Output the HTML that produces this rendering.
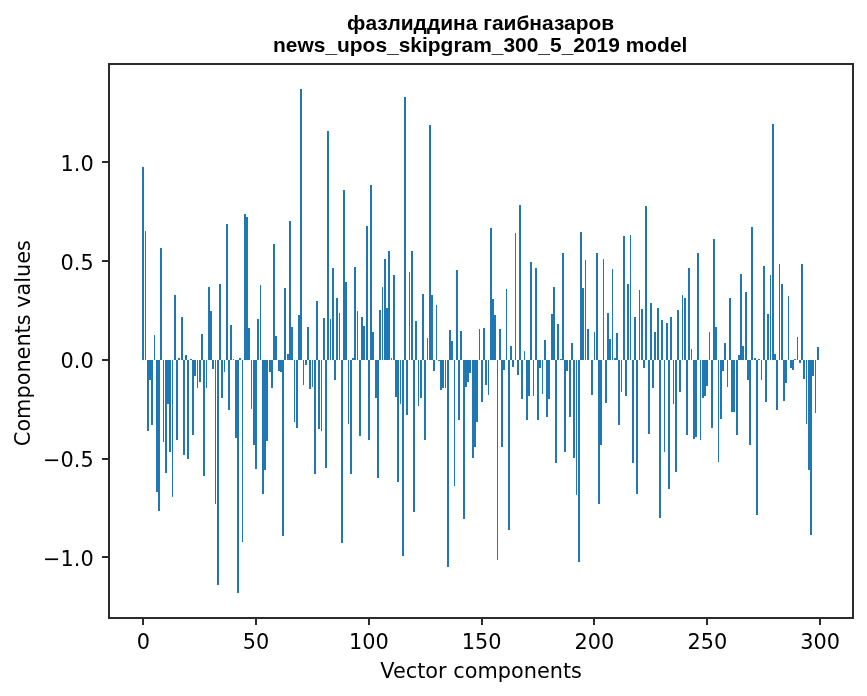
<!DOCTYPE html>
<html lang="ru"><head><meta charset="utf-8"><title>Vector components</title>
<style>html,body{margin:0;padding:0;background:#fff}svg{display:block}text{fill:#000}.t{font-family:"DejaVu Sans","Liberation Sans",sans-serif;font-size:20.83px}.h{font-family:"Liberation Sans",Arial,sans-serif;font-weight:bold;font-size:20.95px}</style></head><body>
<svg width="867" height="696" viewBox="0 0 867 696">
<rect width="867" height="696" fill="#fff"/>
<g fill="#1f77b4" shape-rendering="crispEdges">
<rect x="142" y="167" width="2" height="193"/><rect x="145" y="231" width="1" height="129"/><rect x="147" y="360" width="2" height="71"/><rect x="149" y="360" width="2" height="20"/><rect x="151" y="360" width="2" height="65"/><rect x="154" y="335" width="1" height="25"/><rect x="156" y="360" width="2" height="132"/><rect x="158" y="360" width="2" height="151"/>
<rect x="160" y="248" width="2" height="112"/><rect x="163" y="360" width="1" height="82"/><rect x="165" y="360" width="2" height="113"/><rect x="167" y="360" width="2" height="44"/><rect x="169" y="360" width="2" height="92"/><rect x="172" y="360" width="1" height="137"/><rect x="174" y="295" width="2" height="65"/><rect x="176" y="360" width="2" height="80"/>
<rect x="178" y="358" width="2" height="2"/><rect x="181" y="317" width="2" height="43"/><rect x="183" y="360" width="2" height="95"/><rect x="185" y="355" width="2" height="5"/><rect x="187" y="360" width="2" height="99"/><rect x="190" y="359" width="2" height="1"/><rect x="192" y="360" width="2" height="75"/><rect x="194" y="360" width="2" height="16"/>
<rect x="197" y="360" width="1" height="28"/><rect x="199" y="360" width="2" height="22"/><rect x="201" y="334" width="2" height="26"/><rect x="203" y="360" width="2" height="116"/><rect x="206" y="360" width="1" height="28"/><rect x="208" y="287" width="2" height="73"/><rect x="210" y="311" width="2" height="49"/><rect x="212" y="360" width="2" height="9"/>
<rect x="215" y="360" width="1" height="144"/><rect x="217" y="360" width="2" height="225"/><rect x="219" y="284" width="2" height="76"/><rect x="221" y="360" width="2" height="38"/><rect x="224" y="360" width="1" height="12"/><rect x="226" y="224" width="2" height="136"/><rect x="228" y="360" width="2" height="50"/><rect x="230" y="325" width="2" height="35"/>
<rect x="233" y="359" width="1" height="1"/><rect x="235" y="360" width="2" height="78"/><rect x="237" y="360" width="2" height="233"/><rect x="239" y="358" width="2" height="2"/><rect x="242" y="360" width="1" height="182"/><rect x="244" y="214" width="2" height="146"/><rect x="246" y="217" width="2" height="143"/><rect x="248" y="328" width="2" height="32"/>
<rect x="251" y="360" width="1" height="49"/><rect x="253" y="360" width="2" height="85"/><rect x="255" y="360" width="2" height="109"/><rect x="257" y="319" width="2" height="41"/><rect x="260" y="285" width="1" height="75"/><rect x="262" y="360" width="2" height="134"/><rect x="264" y="360" width="2" height="110"/><rect x="266" y="360" width="2" height="81"/>
<rect x="269" y="360" width="2" height="12"/><rect x="271" y="360" width="2" height="28"/><rect x="273" y="244" width="2" height="116"/><rect x="275" y="336" width="2" height="24"/><rect x="278" y="360" width="2" height="11"/><rect x="280" y="360" width="2" height="12"/><rect x="282" y="360" width="2" height="176"/><rect x="284" y="288" width="2" height="72"/>
<rect x="287" y="354" width="2" height="6"/><rect x="289" y="221" width="2" height="139"/><rect x="291" y="327" width="2" height="33"/><rect x="294" y="360" width="1" height="62"/><rect x="296" y="360" width="2" height="68"/><rect x="298" y="315" width="2" height="45"/><rect x="300" y="89" width="2" height="271"/><rect x="303" y="360" width="1" height="25"/>
<rect x="305" y="360" width="2" height="5"/><rect x="307" y="327" width="2" height="33"/><rect x="309" y="360" width="2" height="29"/><rect x="312" y="360" width="1" height="27"/><rect x="314" y="360" width="2" height="114"/><rect x="316" y="301" width="2" height="59"/><rect x="318" y="360" width="2" height="69"/><rect x="321" y="360" width="1" height="71"/>
<rect x="323" y="318" width="2" height="42"/><rect x="325" y="360" width="2" height="108"/><rect x="327" y="131" width="2" height="229"/><rect x="330" y="319" width="1" height="41"/><rect x="332" y="268" width="2" height="92"/><rect x="334" y="360" width="2" height="20"/><rect x="336" y="298" width="2" height="62"/><rect x="339" y="313" width="1" height="47"/>
<rect x="341" y="360" width="2" height="183"/><rect x="343" y="190" width="2" height="170"/><rect x="345" y="282" width="2" height="78"/><rect x="348" y="360" width="1" height="64"/><rect x="350" y="360" width="2" height="114"/><rect x="352" y="358" width="2" height="2"/><rect x="354" y="267" width="2" height="93"/><rect x="357" y="311" width="1" height="49"/>
<rect x="359" y="360" width="2" height="76"/><rect x="361" y="317" width="2" height="43"/><rect x="363" y="326" width="2" height="34"/><rect x="366" y="226" width="2" height="134"/><rect x="368" y="360" width="2" height="80"/><rect x="370" y="185" width="2" height="175"/><rect x="372" y="332" width="2" height="28"/><rect x="375" y="360" width="2" height="38"/>
<rect x="377" y="360" width="2" height="118"/><rect x="379" y="310" width="2" height="50"/><rect x="382" y="287" width="1" height="73"/><rect x="384" y="259" width="2" height="101"/><rect x="386" y="308" width="2" height="52"/><rect x="388" y="251" width="2" height="109"/><rect x="391" y="358" width="1" height="2"/><rect x="393" y="275" width="2" height="85"/>
<rect x="395" y="360" width="2" height="37"/><rect x="397" y="360" width="2" height="122"/><rect x="400" y="360" width="1" height="44"/><rect x="402" y="360" width="2" height="196"/><rect x="404" y="97" width="2" height="263"/><rect x="406" y="360" width="2" height="55"/><rect x="409" y="272" width="1" height="88"/><rect x="411" y="251" width="2" height="109"/>
<rect x="413" y="360" width="2" height="152"/><rect x="415" y="321" width="2" height="39"/><rect x="418" y="360" width="1" height="46"/><rect x="420" y="360" width="2" height="38"/><rect x="422" y="294" width="2" height="66"/><rect x="424" y="360" width="2" height="80"/><rect x="427" y="338" width="1" height="22"/><rect x="429" y="125" width="2" height="235"/>
<rect x="431" y="295" width="2" height="65"/><rect x="433" y="360" width="2" height="11"/><rect x="436" y="305" width="1" height="55"/><rect x="438" y="360" width="2" height="1"/><rect x="440" y="360" width="2" height="30"/><rect x="442" y="360" width="2" height="28"/><rect x="445" y="360" width="1" height="28"/><rect x="447" y="360" width="2" height="207"/>
<rect x="449" y="330" width="2" height="30"/><rect x="451" y="341" width="2" height="19"/><rect x="454" y="360" width="1" height="126"/><rect x="456" y="270" width="2" height="90"/><rect x="458" y="360" width="2" height="60"/><rect x="460" y="331" width="2" height="29"/><rect x="463" y="360" width="2" height="159"/><rect x="465" y="360" width="2" height="27"/>
<rect x="467" y="360" width="2" height="22"/><rect x="469" y="360" width="2" height="13"/><rect x="472" y="360" width="2" height="98"/><rect x="474" y="360" width="2" height="87"/><rect x="476" y="360" width="2" height="62"/><rect x="479" y="329" width="1" height="31"/><rect x="481" y="360" width="2" height="42"/><rect x="483" y="328" width="2" height="32"/>
<rect x="485" y="360" width="2" height="25"/><rect x="488" y="360" width="1" height="35"/><rect x="490" y="228" width="2" height="132"/><rect x="492" y="299" width="2" height="61"/><rect x="494" y="315" width="2" height="45"/><rect x="497" y="360" width="1" height="200"/><rect x="499" y="329" width="2" height="31"/><rect x="501" y="360" width="2" height="87"/>
<rect x="503" y="360" width="2" height="10"/><rect x="506" y="289" width="1" height="71"/><rect x="508" y="360" width="2" height="170"/><rect x="510" y="346" width="2" height="14"/><rect x="512" y="360" width="2" height="7"/><rect x="515" y="233" width="1" height="127"/><rect x="517" y="360" width="2" height="15"/><rect x="519" y="205" width="2" height="155"/>
<rect x="521" y="360" width="2" height="39"/><rect x="524" y="351" width="1" height="9"/><rect x="526" y="360" width="2" height="60"/><rect x="528" y="360" width="2" height="36"/><rect x="530" y="262" width="2" height="98"/><rect x="533" y="360" width="1" height="36"/><rect x="535" y="268" width="2" height="92"/><rect x="537" y="360" width="2" height="60"/>
<rect x="539" y="360" width="2" height="8"/><rect x="542" y="360" width="1" height="34"/><rect x="544" y="340" width="2" height="20"/><rect x="546" y="360" width="2" height="57"/><rect x="548" y="360" width="2" height="39"/><rect x="551" y="314" width="2" height="46"/><rect x="553" y="287" width="2" height="73"/><rect x="555" y="360" width="2" height="103"/>
<rect x="557" y="324" width="2" height="36"/><rect x="560" y="359" width="2" height="1"/><rect x="562" y="253" width="2" height="107"/><rect x="564" y="360" width="2" height="92"/><rect x="566" y="360" width="2" height="11"/><rect x="569" y="360" width="2" height="57"/><rect x="571" y="343" width="2" height="17"/><rect x="573" y="360" width="2" height="98"/>
<rect x="576" y="360" width="1" height="135"/><rect x="578" y="360" width="2" height="202"/><rect x="580" y="232" width="2" height="128"/><rect x="582" y="288" width="2" height="72"/><rect x="585" y="260" width="1" height="100"/><rect x="587" y="329" width="2" height="31"/><rect x="591" y="360" width="2" height="35"/><rect x="594" y="332" width="1" height="28"/>
<rect x="596" y="253" width="2" height="107"/><rect x="598" y="360" width="2" height="144"/><rect x="600" y="360" width="2" height="85"/><rect x="603" y="259" width="1" height="101"/><rect x="605" y="360" width="2" height="43"/><rect x="607" y="313" width="2" height="47"/><rect x="609" y="339" width="2" height="21"/><rect x="612" y="269" width="1" height="91"/>
<rect x="614" y="358" width="2" height="2"/><rect x="616" y="333" width="2" height="27"/><rect x="618" y="360" width="2" height="65"/><rect x="621" y="360" width="1" height="32"/><rect x="623" y="236" width="2" height="124"/><rect x="625" y="360" width="2" height="36"/><rect x="627" y="284" width="2" height="76"/><rect x="630" y="235" width="1" height="125"/>
<rect x="632" y="360" width="2" height="103"/><rect x="634" y="317" width="2" height="43"/><rect x="636" y="360" width="2" height="134"/><rect x="639" y="290" width="1" height="70"/><rect x="641" y="309" width="2" height="51"/><rect x="643" y="360" width="2" height="8"/><rect x="645" y="206" width="2" height="154"/><rect x="648" y="360" width="2" height="74"/>
<rect x="650" y="303" width="2" height="57"/><rect x="652" y="360" width="2" height="28"/><rect x="654" y="332" width="2" height="28"/><rect x="657" y="308" width="2" height="52"/><rect x="659" y="360" width="2" height="158"/><rect x="661" y="320" width="2" height="40"/><rect x="664" y="360" width="1" height="92"/><rect x="666" y="323" width="2" height="37"/>
<rect x="668" y="360" width="2" height="129"/><rect x="670" y="317" width="2" height="43"/><rect x="673" y="360" width="1" height="44"/><rect x="675" y="360" width="2" height="112"/><rect x="677" y="310" width="2" height="50"/><rect x="679" y="360" width="2" height="32"/><rect x="682" y="295" width="1" height="65"/><rect x="684" y="298" width="2" height="62"/>
<rect x="686" y="360" width="2" height="75"/><rect x="688" y="268" width="2" height="92"/><rect x="691" y="349" width="1" height="11"/><rect x="693" y="360" width="2" height="79"/><rect x="695" y="360" width="2" height="77"/><rect x="697" y="253" width="2" height="107"/><rect x="700" y="360" width="1" height="80"/><rect x="702" y="360" width="2" height="38"/>
<rect x="704" y="360" width="2" height="36"/><rect x="706" y="360" width="2" height="26"/><rect x="709" y="332" width="1" height="28"/><rect x="711" y="360" width="2" height="68"/><rect x="713" y="239" width="2" height="121"/><rect x="715" y="327" width="2" height="33"/><rect x="718" y="360" width="1" height="102"/><rect x="720" y="360" width="2" height="59"/>
<rect x="722" y="360" width="2" height="11"/><rect x="724" y="343" width="2" height="17"/><rect x="727" y="360" width="1" height="27"/><rect x="729" y="298" width="2" height="62"/><rect x="731" y="360" width="2" height="52"/><rect x="733" y="360" width="2" height="52"/><rect x="736" y="360" width="2" height="75"/><rect x="738" y="355" width="2" height="5"/>
<rect x="740" y="274" width="2" height="86"/><rect x="742" y="346" width="2" height="14"/><rect x="745" y="292" width="2" height="68"/><rect x="747" y="360" width="2" height="20"/><rect x="749" y="360" width="2" height="85"/><rect x="751" y="227" width="2" height="133"/><rect x="754" y="358" width="2" height="2"/><rect x="756" y="360" width="2" height="155"/>
<rect x="758" y="359" width="2" height="1"/><rect x="761" y="360" width="1" height="20"/><rect x="763" y="266" width="2" height="94"/><rect x="765" y="360" width="2" height="42"/><rect x="767" y="314" width="2" height="46"/><rect x="770" y="275" width="1" height="85"/><rect x="772" y="124" width="2" height="236"/><rect x="774" y="354" width="2" height="6"/>
<rect x="776" y="360" width="2" height="50"/><rect x="779" y="264" width="1" height="96"/><rect x="781" y="284" width="2" height="76"/><rect x="783" y="360" width="2" height="41"/><rect x="785" y="360" width="2" height="23"/><rect x="788" y="296" width="1" height="64"/><rect x="790" y="360" width="2" height="8"/><rect x="792" y="360" width="2" height="10"/>
<rect x="794" y="359" width="2" height="1"/><rect x="797" y="337" width="1" height="23"/><rect x="799" y="360" width="2" height="3"/><rect x="801" y="264" width="2" height="96"/><rect x="803" y="360" width="2" height="19"/><rect x="806" y="360" width="1" height="64"/><rect x="808" y="360" width="2" height="110"/><rect x="810" y="360" width="2" height="175"/>
<rect x="812" y="360" width="2" height="16"/><rect x="815" y="360" width="1" height="53"/><rect x="817" y="347" width="2" height="13"/>
</g>
<g fill="#2b2b2b" shape-rendering="crispEdges">
<rect x="142" y="619" width="2" height="6"/><rect x="255" y="619" width="2" height="6"/><rect x="368" y="619" width="2" height="6"/><rect x="481" y="619" width="2" height="6"/><rect x="593" y="619" width="2" height="6"/><rect x="706" y="619" width="2" height="6"/><rect x="819" y="619" width="2" height="6"/>
<rect x="102" y="161" width="6" height="2"/><rect x="102" y="260" width="6" height="2"/><rect x="102" y="359" width="6" height="2"/><rect x="102" y="458" width="6" height="2"/><rect x="102" y="556" width="6" height="2"/>
<rect x="108" y="63" width="2" height="556"/><rect x="852" y="63" width="2" height="556"/><rect x="108" y="63" width="746" height="2"/><rect x="108" y="617" width="746" height="2"/>
</g>
<g class="t">
<text x="143.26" y="649.3" text-anchor="middle">0</text><text x="256.06" y="649.3" text-anchor="middle">50</text><text x="368.87" y="649.3" text-anchor="middle">100</text><text x="481.67" y="649.3" text-anchor="middle">150</text><text x="594.47" y="649.3" text-anchor="middle">200</text><text x="707.27" y="649.3" text-anchor="middle">250</text><text x="820.08" y="649.3" text-anchor="middle">300</text>
<text x="93.7" y="565.9" text-anchor="end">−1.0</text><text x="93.7" y="466.9" text-anchor="end">−0.5</text><text x="93.7" y="367.9" text-anchor="end">0.0</text><text x="93.7" y="269.9" text-anchor="end">0.5</text><text x="93.7" y="170.9" text-anchor="end">1.0</text>
<text x="481.1" y="677.8" text-anchor="middle">Vector components</text>
<text transform="translate(30.4,343.1) rotate(-90)" text-anchor="middle">Components values</text>
</g>
<g class="h"><text x="480.6" y="29.6" text-anchor="middle">фазлиддина гаибназаров</text>
<text x="480.2" y="52.0" text-anchor="middle">news_upos_skipgram_300_5_2019 model</text></g>
</svg>
</body></html>
